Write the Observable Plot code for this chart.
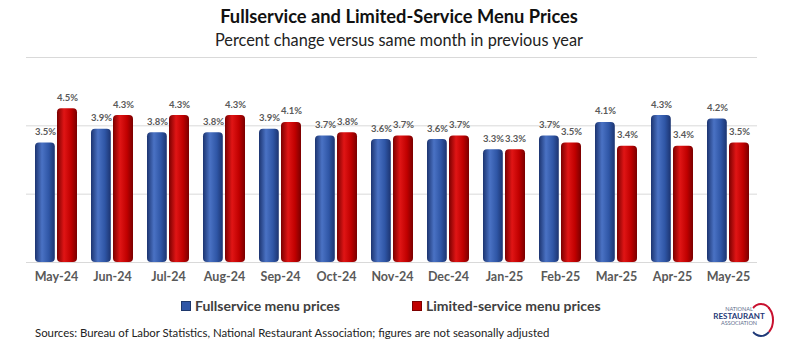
<!DOCTYPE html>
<html>
<head>
<meta charset="utf-8">
<script src="https://cdn.jsdelivr.net/npm/d3@7"></script>
<script src="https://cdn.jsdelivr.net/npm/@observablehq/plot@0.6"></script>
<style>
  html, body { margin: 0; padding: 0; background: #fff; }
  #wrap { position: relative; width: 798px; height: 345px; overflow: hidden; font-family: Lato, "Open Sans", sans-serif; }
  #chart { position: absolute; left: 0; top: 0; }
  .title { position: absolute; left: 0; width: 798px; top: 5px; text-align: center; font-weight: bold; font-size: 18.3px; color: #111; }
  .subtitle { position: absolute; left: 0; width: 798px; top: 30px; text-align: center; font-size: 16.3px; color: #222; }
  .legend { position: absolute; top: 297px; font-weight: bold; font-size: 14px; color: #404040; display: flex; align-items: center; }
  .legend .sw { width: 8px; height: 8px; margin-right: 4px; border: 1px solid rgba(0,0,0,0.35); }
  .caption { position: absolute; left: 35px; top: 326px; font-size: 11.4px; color: #222; }
  .logo { position: absolute; left: 706px; top: 306px; width: 66px; height: 30px; text-align: center; font-size: 5.5px; line-height: 7px; color: #5b6b8a; }
  .logo b { display: block; font-size: 8px; color: #1f3a78; }
  .logo .arc { position: absolute; right: -2px; top: -3px; width: 22px; height: 30px; border: 2px solid #c8102e; border-left-color: transparent; border-bottom-color: #1f3a78; border-radius: 50%; }
</style>
</head>
<body>
<div id="wrap">
  <div id="chart"></div>
  <div class="title">Fullservice and Limited-Service Menu Prices</div>
  <div class="subtitle">Percent change versus same month in previous year</div>
  <div class="legend" style="left:181px"><span class="sw" style="background:#2f56a6"></span>Fullservice menu prices</div>
  <div class="legend" style="left:412px"><span class="sw" style="background:#c00000"></span>Limited-service menu prices</div>
  <div class="caption">Sources: Bureau of Labor Statistics, National Restaurant Association; figures are not seasonally adjusted</div>
  <div class="logo"><span class="arc"></span>NATIONAL<b>RESTAURANT</b>ASSOCIATION</div>
</div>
<script>
const months = ["May-24","Jun-24","Jul-24","Aug-24","Sep-24","Oct-24","Nov-24","Dec-24","Jan-25","Feb-25","Mar-25","Apr-25","May-25"];
const fullservice = [3.5, 3.9, 3.8, 3.8, 3.9, 3.7, 3.6, 3.6, 3.3, 3.7, 4.1, 4.3, 4.2];
const limitedService = [4.5, 4.3, 4.3, 4.3, 4.1, 3.8, 3.7, 3.7, 3.3, 3.5, 3.4, 3.4, 3.5];
const gridTicks = [0, 2, 4, 6];

const full = months.map((m, i) => ({month: m, value: fullservice[i]}));
const lim = months.map((m, i) => ({month: m, value: limitedService[i]}));
const fmt = d => d.value.toFixed(1) + "%";

const plot = Plot.plot({
  width: 798,
  height: 345,
  marginLeft: 26,
  marginRight: 41,
  marginTop: 57,
  marginBottom: 83,
  style: {fontFamily: "Lato, 'Open Sans', sans-serif", background: "transparent"},
  x: {domain: months, padding: 0.25, paddingOuter: 0.125, label: null, tickSize: 0, tickPadding: 10},
  y: {domain: [0, 6], axis: null},
  marks: [
    Plot.ruleY(gridTicks, {stroke: "#d9d9d9", strokeWidth: 1}),
    Plot.barY(full, {x: "month", y: "value", insetRight: 22.2, rx: 4, fill: "url(#gBlue)"}),
    Plot.barY(lim, {x: "month", y: "value", insetLeft: 22, rx: 4, fill: "url(#gRed)"}),
    Plot.text(full, {x: "month", y: "value", text: fmt, dx: -11, dy: -11, fontSize: 9.5, fontWeight: "bold", fill: "#595959"}),
    Plot.text(lim, {x: "month", y: "value", text: fmt, dx: 11, dy: -11, fontSize: 9.5, fontWeight: "bold", fill: "#595959"}),
    Plot.axisX({tickSize: 0, tickPadding: 10, fontSize: 12.5, fontWeight: "bold", fill: "#595959", label: null})
  ]
});

const svg = d3.select(plot);
const defs = svg.insert("defs", ":first-child");
function grad(id, edge, mid, hi) {
  const g = defs.append("linearGradient").attr("id", id).attr("x1", "0").attr("x2", "1").attr("y1", "0").attr("y2", "0");
  g.append("stop").attr("offset", "0%").attr("stop-color", edge);
  g.append("stop").attr("offset", "35%").attr("stop-color", hi);
  g.append("stop").attr("offset", "70%").attr("stop-color", mid);
  g.append("stop").attr("offset", "100%").attr("stop-color", edge);
}
grad("gBlue", "#1c3470", "#2f56a6", "#4a72c4");
grad("gRed", "#7a0000", "#c00000", "#e01515");

document.getElementById("chart").appendChild(plot);
</script>
</body>
</html>
